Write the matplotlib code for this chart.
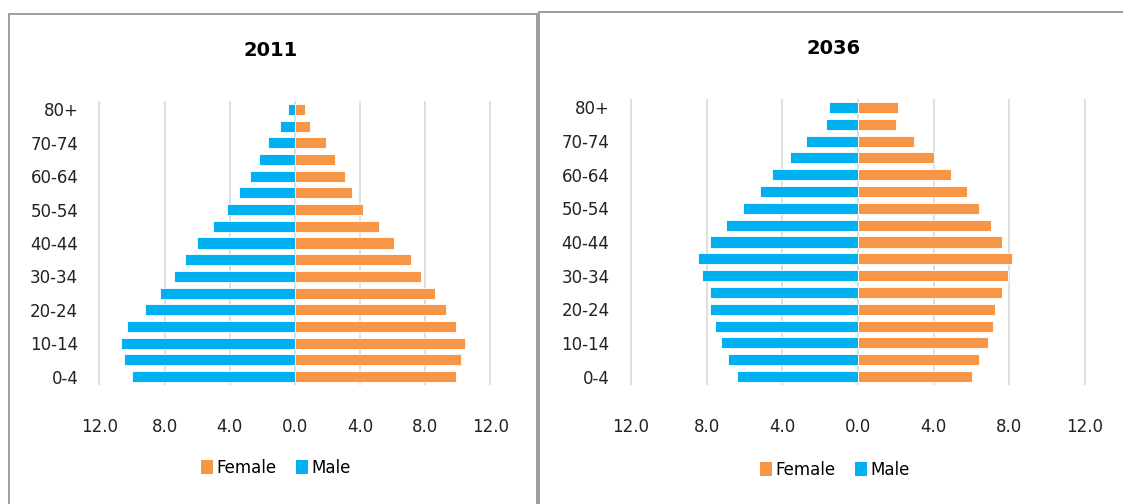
import matplotlib
matplotlib.use("Agg")
import matplotlib.pyplot as plt
from matplotlib.patches import Rectangle, Patch
import numpy as np

age_groups = ["0-4", "5-9", "10-14", "15-19", "20-24", "25-29", "30-34", "35-39",
              "40-44", "45-49", "50-54", "55-59", "60-64", "65-69", "70-74", "75-79", "80+"]

male_2011 = [10.0, 10.5, 10.7, 10.3, 9.2, 8.3, 7.4, 6.75, 6.0, 5.0, 4.15, 3.4, 2.75, 2.2, 1.65, 0.9, 0.45]
female_2011 = [9.9, 10.2, 10.45, 9.9, 9.25, 8.6, 7.75, 7.1, 6.1, 5.15, 4.2, 3.5, 3.1, 2.45, 1.9, 0.95, 0.6]

male_2036 = [6.4, 6.85, 7.25, 7.55, 7.8, 7.8, 8.25, 8.45, 7.8, 6.95, 6.1, 5.2, 4.55, 3.6, 2.75, 1.7, 1.55]
female_2036 = [6.0, 6.4, 6.85, 7.15, 7.25, 7.6, 7.95, 8.15, 7.6, 7.05, 6.4, 5.75, 4.9, 4.0, 2.95, 2.0, 2.1]

years = ["2011", "2036"]
xticks = [-12, -8, -4, 0, 4, 8, 12]
xtick_labels = ["12.0", "8.0", "4.0", "0.0", "4.0", "8.0", "12.0"]

BLUE = "#00B0F0"
ORANGE = "#F79646"
GRID = "#D9D9D9"

W, H = 1123, 504
fig = plt.figure(figsize=(W / 100, H / 100), dpi=100)
plt.rcParams['font.family'] = ['DejaVu Sans']

# panel borders
fig.patches.append(Rectangle((8.5 / W, -0.05), (537 - 8.5) / W, 1.05 - 14 / H,
                             transform=fig.transFigure, fill=False, edgecolor="#8C8C8C", lw=1.2))
fig.patches.append(Rectangle((539 / W, -0.05), 0.6, 1.05 - 11.5 / H,
                             transform=fig.transFigure, fill=False, edgecolor="#8C8C8C", lw=1.2))

axes_px = [(97.7, 101, 492, 385), (629, 99, 1087, 385)]
title_y = [50, 48]
title_x = [271, 834]
legend_pos = [(276, 468), (835, 470)]
data = [(male_2011, female_2011), (male_2036, female_2036)]

y = np.arange(len(age_groups))
for i, (x0, y0, x1, y1) in enumerate(axes_px):
    ax = fig.add_axes([x0 / W, 1 - y1 / H, (x1 - x0) / W, (y1 - y0) / H])
    male, female = data[i]
    ax.barh(y, [-v for v in male], height=0.66, color=BLUE, edgecolor="white", lw=0.6, zorder=3, label="Male")
    ax.barh(y, female, height=0.66, color=ORANGE, edgecolor="white", lw=0.6, zorder=3, label="Female")
    ax.set_xlim(-12.1, 12.1)
    ax.set_ylim(-0.5, len(age_groups) - 0.5)
    ax.set_xticks(xticks)
    ax.set_xticklabels(xtick_labels)
    ax.set_yticks(y[::2])
    ax.set_yticklabels(age_groups[::2])
    for xv in xticks:
        ax.axvline(xv, color=GRID, lw=1.2, zorder=1)
    for s in ax.spines.values():
        s.set_visible(False)
    ax.tick_params(axis="x", length=0, pad=24, labelsize=12, colors="#222222")
    ax.tick_params(axis="y", length=0, pad=14, labelsize=12, colors="#222222")
    fig.text(title_x[i] / W, 1 - title_y[i] / H, years[i],
             ha="center", va="center", fontsize=14, fontweight="bold")
    handles = [Patch(facecolor=ORANGE, label="Female"), Patch(facecolor=BLUE, label="Male")]
    lx, ly = legend_pos[i]
    fig.legend(handles=handles, loc="center", bbox_to_anchor=(lx / W, 1 - ly / H), ncol=2,
               frameon=False, fontsize=12, handlelength=0.7, handleheight=0.9,
               handletextpad=0.2, columnspacing=1.2)

fig.savefig("out.png", dpi=100)
